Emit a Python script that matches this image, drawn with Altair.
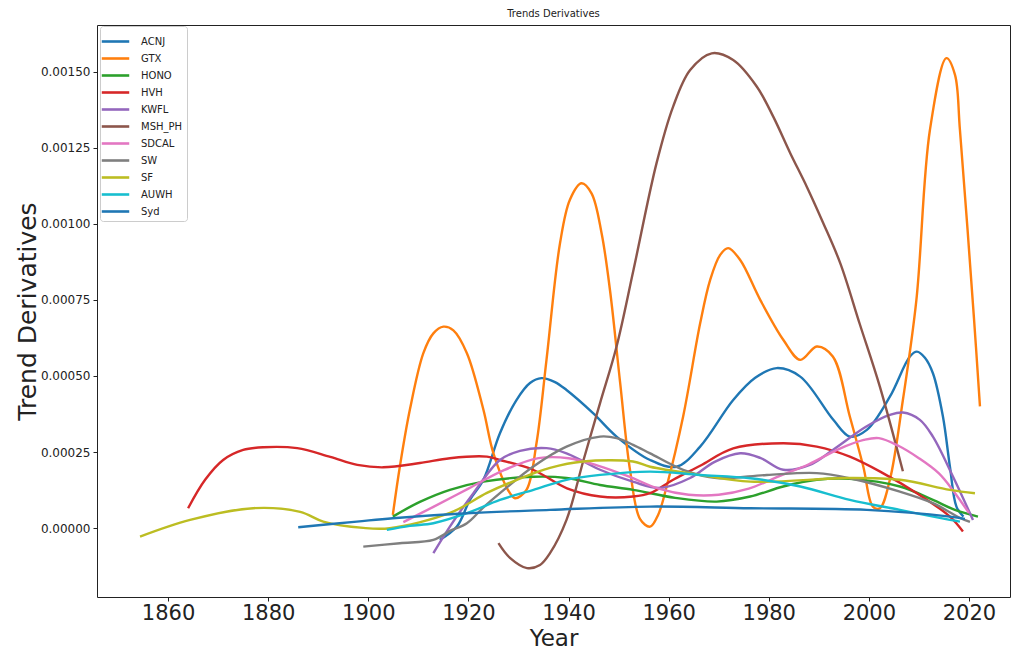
import altair as alt
import pandas as pd

names = ["ACNJ", "GTX", "HONO", "HVH", "KWFL", "MSH_PH", "SDCAL", "SW", "SF", "AUWH", "Syd"]
colors = ["#1f77b4", "#ff7f0e", "#2ca02c", "#d62728", "#9467bd", "#8c564b",
          "#e377c2", "#7f7f7f", "#bcbd22", "#17becf", "#1f77b4"]

acnj_x = [1914.3, 1917.7, 1920.3, 1923.0, 1926.3, 1929.6, 1932.3, 1934.6, 1937.3, 1939.6, 1944.9,
          1949.6, 1956.3, 1961.6, 1966.3, 1972.9, 1977.3, 1981.6, 1986.3, 1992.9, 1996.2, 1999.6,
          2004.2, 2008.2, 2009.6, 2011.2, 2012.8, 2014.8, 2016.2, 2017.5, 2018.9]
acnj_y = [-0.0000385, 0.0000053, 0.000093, 0.000159, 0.000312, 0.000421, 0.000477, 0.000493, 0.00048,
          0.000454, 0.000378, 0.000301, 0.000224, 0.000202, 0.000268, 0.000421, 0.000494, 0.000526,
          0.000498, 0.000356, 0.000301, 0.000323, 0.000432, 0.000564, 0.00058, 0.00056, 0.000509,
          0.000367, 0.000202, 0.000071, 0.000038]

gtx_x = [1904.9, 1906.3, 1908.3, 1911.0, 1913.0, 1915.0, 1917.0, 1919.7, 1923.0, 1925.0, 1928.3,
         1929.3, 1931.6, 1933.6, 1935.6, 1938.3, 1940.3, 1942.6, 1944.6, 1946.6, 1948.3, 1950.3,
         1952.3, 1954.3, 1956.3, 1957.9, 1959.6, 1962.9, 1966.3, 1968.3, 1970.3, 1971.9, 1974.3,
         1978.3, 1982.9, 1986.3, 1989.6, 1992.8, 1996.2, 1998.9, 2000.8, 2002.2, 2004.2, 2006.8,
         2009.5, 2012.2, 2015.5, 2017.2, 2018.2, 2021.0, 2022.2]
gtx_y = [0.0000437, 0.000202, 0.000389, 0.000575, 0.00064, 0.000662, 0.00065, 0.000575, 0.000389,
         0.000246, 0.000115, 0.0000986, 0.000126, 0.000279, 0.000553, 0.000936, 0.00108, 0.001133,
         0.0011, 0.00097, 0.00078, 0.00048, 0.00019, 0.00003, 0.000005, 0.0000437, 0.000137,
         0.000367, 0.000673, 0.000816, 0.000898, 0.00092, 0.000881, 0.00075, 0.000619, 0.000553,
         0.000597, 0.000564, 0.000367, 0.000202, 0.000071, 0.0000657, 0.000159, 0.000421, 0.00075,
         0.001308, 0.001544, 0.00149, 0.001308, 0.00069, 0.0004]

hono_x = [1904.9, 1910.3, 1916.3, 1923.0, 1933.0, 1939.6, 1946.3, 1952.9, 1961.3, 1969.6, 1976.3,
          1982.9, 1989.6, 1996.2, 2006.2, 2012.8, 2017.2, 2021.8]
hono_y = [0.0000381, 0.0000864, 0.000126, 0.000153, 0.000169, 0.000165, 0.000142, 0.000126, 0.0000996,
          0.0000874, 0.000104, 0.000137, 0.000159, 0.000162, 0.000137, 0.000093, 0.00006, 0.0000381]

hvh_x = [1864.0, 1867.4, 1871.0, 1875.0, 1879.0, 1885.8, 1892.4, 1897.8, 1903.0, 1910.3, 1916.3,
         1923.7, 1926.3, 1932.9, 1939.7, 1946.3, 1952.9, 1956.3, 1961.0, 1966.3, 1972.9, 1982.9,
         1989.6, 1996.2, 2002.8, 2009.6, 2016.2, 2018.8]
hvh_y = [0.0000657, 0.000159, 0.000224, 0.000257, 0.000266, 0.000263, 0.000234, 0.000208, 0.0002,
         0.000214, 0.00023, 0.000235, 0.000224, 0.000192, 0.000131, 0.000104, 0.000104, 0.000115,
         0.00016, 0.000205, 0.000262, 0.000279, 0.000268, 0.000235, 0.000181, 0.000115, 0.000038,
         -0.000011]

kwfl_x = [1913.0, 1916.3, 1921.0, 1926.3, 1930.3, 1935.6, 1939.6, 1943.0, 1946.3, 1953.0, 1958.3,
          1964.3, 1969.2, 1974.3, 1978.3, 1982.9, 1988.2, 1992.8, 1999.5, 2004.2, 2006.8, 2010.2,
          2012.8, 2016.8, 2020.8]
kwfl_y = [-0.0000821, 0.0000053, 0.000115, 0.000224, 0.000254, 0.000263, 0.000246, 0.000219, 0.000192,
          0.000152, 0.000132, 0.000165, 0.000218, 0.000246, 0.000231, 0.000192, 0.000208, 0.000257,
          0.000334, 0.000372, 0.00038, 0.000356, 0.000301, 0.00017, 0.0000273]

msh_x = [1926.0, 1928.3, 1931.7, 1934.3, 1936.3, 1939.6, 1943.0, 1946.3, 1949.6, 1953.0, 1957.6,
         1960.9, 1964.3, 1968.6, 1972.9, 1977.6, 1980.9, 1984.3, 1987.6, 1990.9, 1994.3, 1998.2,
         2002.2, 2006.8]
msh_y = [-0.0000493, -0.0000976, -0.000131, -0.000121, -0.0000821, 0.0000273, 0.000224, 0.000411,
         0.000597, 0.00085, 0.0012, 0.001385, 0.001505, 0.00156, 0.001538, 0.001451, 0.001352,
         0.001232, 0.001122, 0.001002, 0.00087, 0.00067, 0.000465, 0.000187]

sdcal_x = [1907, 1913, 1920, 1927, 1934, 1940, 1946, 1952, 1958, 1964, 1970, 1976, 1982, 1988,
           1994, 1999, 2002, 2006, 2010, 2014, 2017, 2020]
sdcal_y = [0.00002, 0.00007, 0.00013, 0.00019, 0.00023, 0.00023, 0.000205, 0.00017, 0.00013, 0.00011,
           0.00011, 0.00013, 0.00017, 0.00021, 0.00026, 0.00029, 0.000296, 0.00027, 0.00023, 0.00018,
           0.00012, 0.00005]

sw_x = [1899.0, 1906.3, 1913.0, 1916.3, 1919.7, 1922.9, 1926.3, 1932.9, 1939.6, 1946.3, 1949.6,
        1952.9, 1956.3, 1962.9, 1969.6, 1979.6, 1989.6, 1996.2, 2006.2, 2012.8, 2018.2, 2020.2]
sw_y = [-0.0000604, -0.0000493, -0.0000384, -0.0000089, 0.0000164, 0.0000667, 0.000115, 0.000202,
        0.000268, 0.000301, 0.000296, 0.000274, 0.000246, 0.000192, 0.000165, 0.000175, 0.000181,
        0.000164, 0.00012, 0.0000821, 0.0000338, 0.0000207]

sf_x = [1854.4, 1864.4, 1877.0, 1886.4, 1891.0, 1899.0, 1904.3, 1916.3, 1923.7, 1929.7, 1936.3,
        1942.9, 1952.9, 1956.3, 1966.3, 1976.3, 1996.2, 2006.2, 2016.2, 2021.2]
sf_y = [-0.0000276, 0.0000273, 0.0000657, 0.0000535, 0.0000217, 0.000001, 0.0, 0.00005, 0.000116,
        0.000159, 0.000198, 0.000219, 0.000219, 0.000202, 0.000175, 0.000153, 0.000165, 0.000159,
        0.000126, 0.000115]

auwh_x = [1903.7, 1908.3, 1913.0, 1919.7, 1926.3, 1933.0, 1939.6, 1946.3, 1956.3, 1966.3, 1976.3,
          1986.3, 1996.2, 2006.2, 2016.2, 2018.2]
auwh_y = [-0.0000056, 0.0000076, 0.0000164, 0.0000493, 0.000093, 0.000126, 0.000159, 0.000175,
          0.000186, 0.000175, 0.000164, 0.000137, 0.000093, 0.00006, 0.0000273, 0.0000217]

syd_x = [1886.0, 1897.7, 1904.9, 1919.7, 1936.3, 1956.3, 1976.3, 1999.6, 2016.2, 2019.2]
syd_y = [0.0000033, 0.0000217, 0.0000329, 0.0000493, 0.0000601, 0.000071, 0.0000657, 0.0000601,
         0.0000381, 0.0000306]

series_x = [acnj_x, gtx_x, hono_x, hvh_x, kwfl_x, msh_x, sdcal_x, sw_x, sf_x, auwh_x, syd_x]
series_y = [acnj_y, gtx_y, hono_y, hvh_y, kwfl_y, msh_y, sdcal_y, sw_y, sf_y, auwh_y, syd_y]

rows = []
for i, (n, xs, ys) in enumerate(zip(names, series_x, series_y)):
    for j, (a, b) in enumerate(zip(xs, ys)):
        rows.append({"Station": n, "Year": a, "Value": b, "ord": i, "j": j})
df = pd.DataFrame(rows)

FONT = "DejaVu Sans"
INK = "#222"

chart = alt.Chart(df).mark_line(strokeWidth=2.4, interpolate="catmull-rom").encode(
    x=alt.X("Year:Q",
            scale=alt.Scale(domain=[1845.8, 2028.2], nice=False, zero=False),
            axis=alt.Axis(title="Year", values=list(range(1860, 2021, 20)), format="d",
                          labelFontSize=21, titleFontSize=23, labelPadding=1, titlePadding=4,
                          tickSize=4, grid=False, domain=False, tickColor=INK,
                          labelColor=INK, titleColor=INK, titleFontWeight="normal",
                          labelFont=FONT, titleFont=FONT)),
    y=alt.Y("Value:Q",
            scale=alt.Scale(domain=[-0.000226, 0.001653], nice=False, zero=False),
            axis=alt.Axis(title="Trend Derivatives",
                          values=[0, 0.00025, 0.0005, 0.00075, 0.001, 0.00125, 0.0015],
                          format=".5f", labelFontSize=12, titleFontSize=25, labelPadding=3,
                          titlePadding=0, tickSize=4, grid=False, domain=False, tickColor=INK,
                          labelColor=INK, titleColor=INK, titleFontWeight="normal",
                          labelFont=FONT, titleFont=FONT)),
    color=alt.Color("Station:N", scale=alt.Scale(domain=names, range=colors),
                    legend=alt.Legend(title=None, orient="none", legendX=3, legendY=1,
                                      symbolType="M-1.4,0H1.4", symbolSize=385,
                                      symbolStrokeWidth=2.6, symbolFillColor="transparent",
                                      labelFontSize=10, labelFont=FONT, labelColor=INK,
                                      rowPadding=0, padding=4, strokeColor="#cccccc",
                                      fillColor="white", cornerRadius=3, labelOffset=14)),
    detail="ord:N",
    order="j:Q",
).properties(
    width=913, height=572,
    title=alt.TitleParams("Trends Derivatives", fontSize=10, fontWeight="normal",
                          font=FONT, offset=6, color=INK),
    padding={"left": 97, "top": 25, "right": 1, "bottom": 56},
    autosize=alt.AutoSizeParams(type="none"),
).configure_view(stroke=INK, strokeWidth=1)

chart.save("out.html", embed_options={"renderer": "svg", "actions": False})
